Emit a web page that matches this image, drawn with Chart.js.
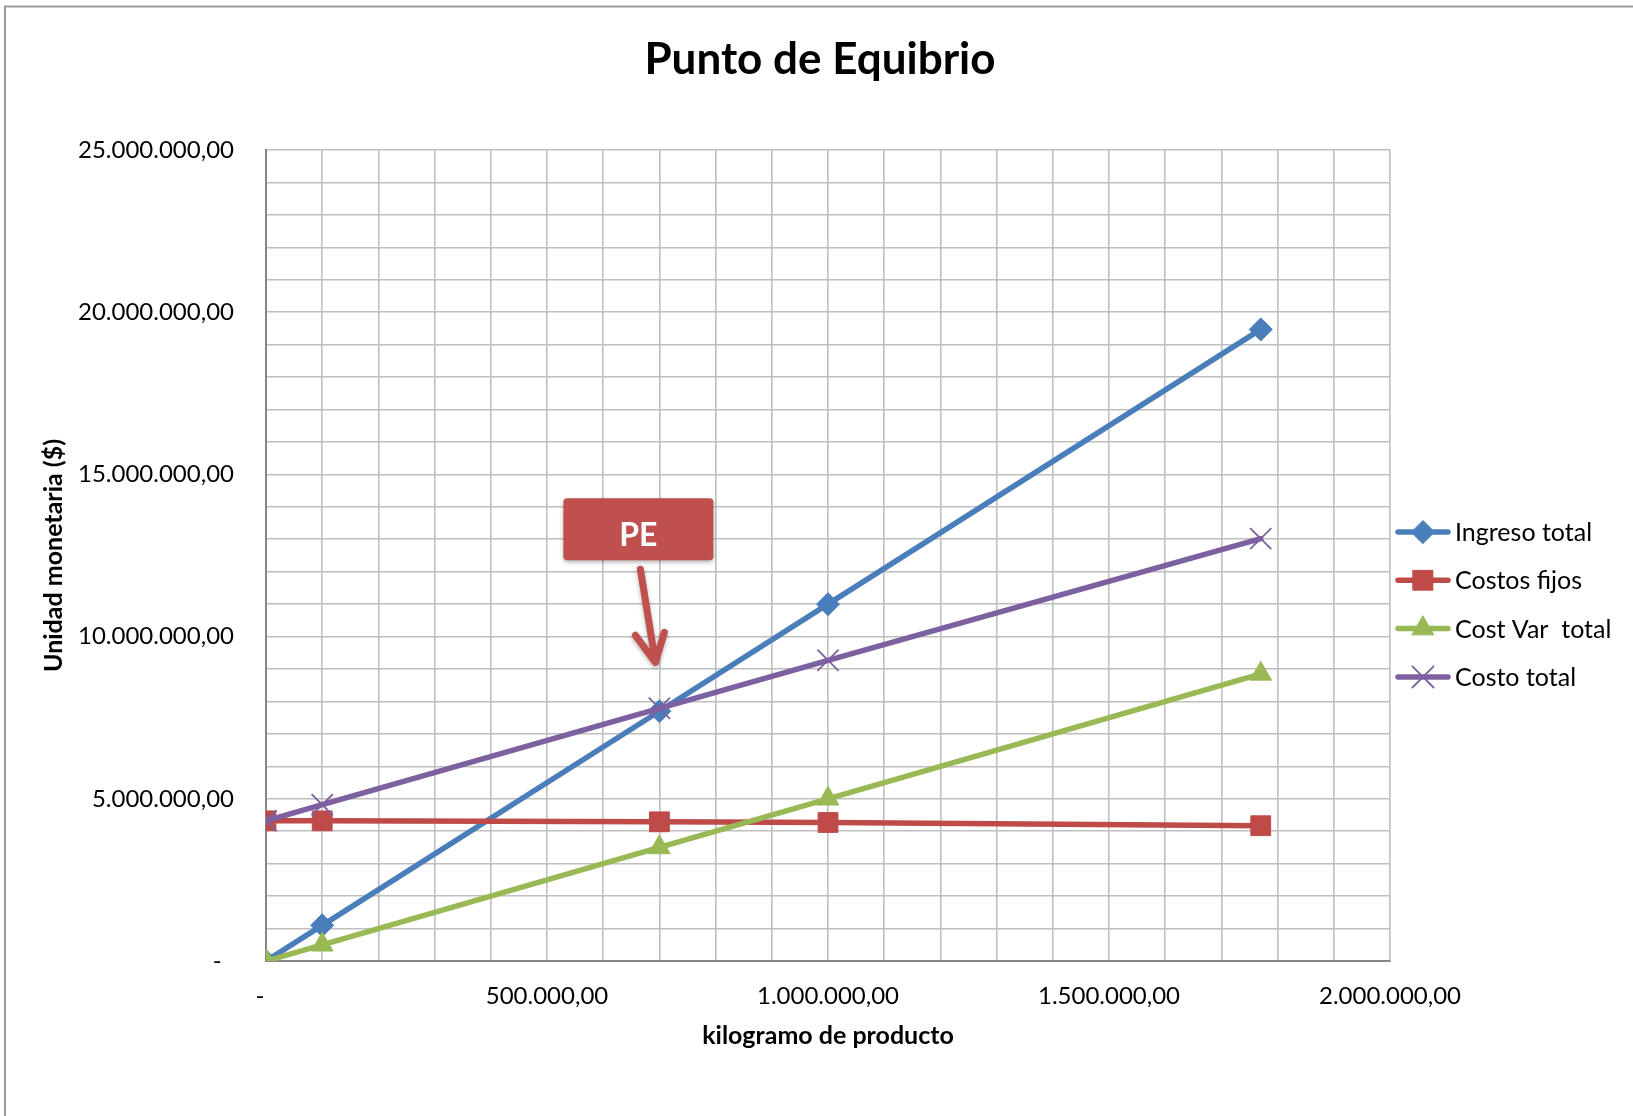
<!DOCTYPE html>
<html lang="es">
<head>
<meta charset="utf-8">
<title>Punto de Equibrio</title>
<script src="https://cdn.jsdelivr.net/npm/chart.js@4.4.1/dist/chart.umd.min.js"></script>
<style>
  html, body { margin: 0; padding: 0; background: #fff; }
  #chartPE { display: block; }
</style>
</head>
<body>
<canvas id="chartPE" width="1633" height="1116"></canvas>
<script>
// kilos producidos y montos en $
const kilos = [0, 100000, 700000, 1000000, 1770000];
const ingresoTotal = [0, 1100000, 7700000, 11000000, 19470000];
const costosFijos = [4320000, 4320000, 4290000, 4270000, 4170000];
const costVarTotal = [0, 500000, 3500000, 5000000, 8850000];
const costoTotal = [4320000, 4820000, 7790000, 9270000, 13020000];

const seriesNames = ['Ingreso total', 'Costos fijos', 'Cost Var  total', 'Costo total'];
const xTickLabels = ['-  ', '500.000,00', '1.000.000,00', '1.500.000,00', '2.000.000,00'];
const yTickLabels = ['-  ', '5.000.000,00', '10.000.000,00', '15.000.000,00', '20.000.000,00', '25.000.000,00'];

const FONT = 'Lato, "Open Sans", sans-serif';
const colores = ['#4A7EBB', '#BE4B48', '#98B954', '#7D60A0'];
const marcas = [
  { style: 'rectRot', r: 11.5, bw: 1 },
  { style: 'rect', r: 14, bw: 1 },
  { style: 'triangle', r: 12.5, bw: 1 },
  { style: 'crossRot', r: 15, bw: 1.8 }
];
const valores = [ingresoTotal, costosFijos, costVarTotal, costoTotal];

function serie(i) {
  return {
    label: seriesNames[i],
    data: kilos.map((k, j) => ({ x: k, y: valores[i][j] })),
    borderColor: colores[i],
    backgroundColor: colores[i],
    borderWidth: 5.5,
    borderCapStyle: 'round',
    borderJoinStyle: 'round',
    pointStyle: marcas[i].style,
    pointRadius: marcas[i].r,
    pointHoverRadius: marcas[i].r,
    pointBorderWidth: marcas[i].bw,
    pointBorderColor: colores[i],
    pointBackgroundColor: colores[i],
    tension: 0,
    order: 4 - i
  };
}

// leyenda estilo Excel: línea con marcador al centro
const leyenda = {
  id: 'leyenda',
  afterDraw(chart) {
    const ctx = chart.ctx;
    const x0 = chart.chartArea.right + 6;
    const y0 = 532;
    ctx.save();
    seriesNames.forEach((name, i) => {
      const y = y0 + i * 48.3;
      ctx.strokeStyle = colores[i];
      ctx.lineWidth = 5.5;
      ctx.lineCap = 'round';
      ctx.beginPath();
      ctx.moveTo(x0 + 2, y);
      ctx.lineTo(x0 + 52, y);
      ctx.stroke();
      ctx.fillStyle = colores[i];
      ctx.lineWidth = marcas[i].bw;
      Chart.helpers.drawPoint(ctx, {
        pointStyle: marcas[i].style,
        radius: marcas[i].r,
        borderWidth: marcas[i].bw
      }, x0 + 27, y);
      ctx.fillStyle = '#000';
      ctx.font = '25px ' + FONT;
      ctx.textAlign = 'left';
      ctx.textBaseline = 'middle';
      ctx.fillText(name, x0 + 59, y + 1);
    });
    ctx.restore();
  }
};

// recuadro "PE" con flecha hacia el punto de equilibrio
const etiquetaPE = {
  id: 'etiquetaPE',
  afterDraw(chart) {
    const ctx = chart.ctx;
    const xs = chart.scales.x, ys = chart.scales.y;
    const tx = xs.getPixelForValue(kilos[2]) - 4;
    const ty = ys.getPixelForValue(costoTotal[2]) - 46;
    const rojo = '#C0504D';
    ctx.save();
    ctx.shadowColor = 'rgba(0,0,0,0.3)';
    ctx.shadowBlur = 4;
    ctx.shadowOffsetY = 2;
    ctx.fillStyle = rojo;
    ctx.beginPath();
    ctx.roundRect(tx - 92, ty - 164, 150, 62, 4);
    ctx.fill();
    ctx.strokeStyle = rojo;
    ctx.lineWidth = 7;
    ctx.lineCap = 'round';
    ctx.lineJoin = 'round';
    ctx.beginPath();
    ctx.moveTo(tx - 15, ty - 93);
    ctx.lineTo(tx, ty);
    ctx.moveTo(tx - 20, ty - 27);
    ctx.lineTo(tx, ty);
    ctx.lineTo(tx + 9, ty - 30);
    ctx.stroke();
    ctx.shadowColor = 'transparent';
    ctx.fillStyle = '#fff';
    ctx.font = 'bold 32px ' + FONT;
    ctx.textAlign = 'center';
    ctx.textBaseline = 'alphabetic';
    ctx.fillText('PE', tx - 17, ty - 116);
    ctx.restore();
  }
};

const marco = {
  id: 'marco',
  beforeDraw(chart) {
    const ctx = chart.ctx;
    ctx.save();
    ctx.fillStyle = '#fff';
    ctx.fillRect(0, 0, chart.width, chart.height);
    ctx.strokeStyle = '#9a9a9a';
    ctx.lineWidth = 2;
    ctx.strokeRect(5, 6.5, chart.width + 20, chart.height + 20);
    ctx.restore();
  }
};

new Chart(document.getElementById('chartPE'), {
  type: 'line',
  data: { datasets: [serie(0), serie(1), serie(2), serie(3)] },
  options: {
    responsive: false,
    animation: false,
    layout: { padding: { left: 7, right: 0, top: 0, bottom: 0 } },
    plugins: {
      legend: { display: false },
      tooltip: { enabled: false },
      title: {
        display: true,
        text: 'Punto de Equibrio',
        color: '#000',
        font: { family: FONT, size: 44, weight: 'bold', lineHeight: 1.2 },
        padding: { top: 33, bottom: 64.2 }
      }
    },
    scales: {
      x: {
        type: 'linear',
        min: 0,
        max: 2000000,
        afterFit(s) { s.height = 155; },
        grid: { color: '#BFBFBF', lineWidth: 1.6, drawTicks: false },
        border: { color: '#868686', width: 2 },
        ticks: {
          stepSize: 100000,
          autoSkip: false,
          maxRotation: 0,
          padding: 21,
          color: '#000',
          font: { family: FONT, size: 24 },
          callback: v => (v % 500000 === 0 ? xTickLabels[v / 500000] : '')
        },
        title: {
          display: true,
          text: 'kilogramo de producto',
          color: '#000',
          font: { family: FONT, size: 25, weight: 'bold', lineHeight: 1.2 },
          padding: { top: 0, bottom: 65 }
        }
      },
      y: {
        min: 0,
        max: 25000000,
        afterFit(s) { s.width = 259; },
        grid: { color: '#BFBFBF', lineWidth: 1.6, drawTicks: false },
        border: { color: '#868686', width: 2 },
        ticks: {
          stepSize: 1000000,
          autoSkip: false,
          padding: 32,
          color: '#000',
          font: { family: FONT, size: 24 },
          callback: v => (v % 5000000 === 0 ? yTickLabels[v / 5000000] : '')
        },
        title: {
          display: true,
          text: 'Unidad monetaria ($)',
          color: '#000',
          font: { family: FONT, size: 25, weight: 'bold', lineHeight: 1.2 },
          padding: { top: 32, bottom: 0 }
        }
      },
      // espacio a la derecha reservado para la leyenda
      leyendaEje: {
        type: 'linear',
        position: 'right',
        afterFit(s) { s.width = 243; },
        grid: { display: false },
        border: { display: false },
        ticks: { display: false }
      }
    }
  },
  plugins: [marco, leyenda, etiquetaPE]
});
</script>
</body>
</html>
